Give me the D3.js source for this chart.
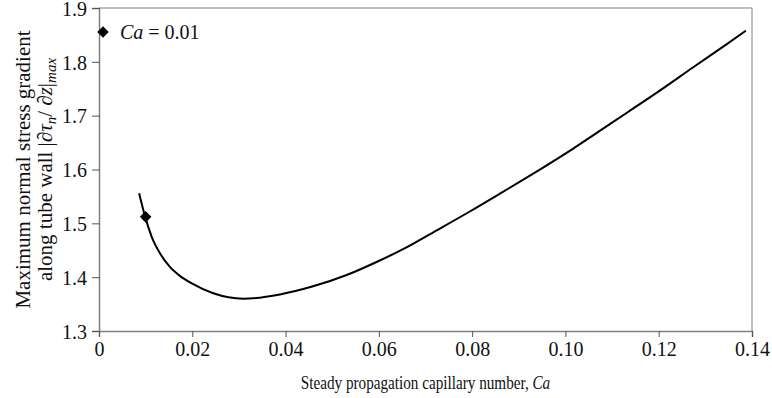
<!DOCTYPE html>
<html>
<head>
<meta charset="utf-8">
<script src="https://cdn.jsdelivr.net/npm/d3@7"></script>
<style>
  body { margin: 0; background: #fff; }
</style>
</head>
<body>
<div id="chart"></div>
<script>
// Curve
const caValues = [0.0086, 0.0099, 0.0113, 0.0131, 0.0152, 0.0174, 0.0200, 0.0245, 0.0309,
  0.0388, 0.0459, 0.0531, 0.0602, 0.0652, 0.0724, 0.0795, 0.0867, 0.0938, 0.1010,
  0.1060, 0.1131, 0.1203, 0.1274, 0.1346, 0.1387];
const gradValues = [1.556, 1.512, 1.475, 1.444, 1.419, 1.402, 1.388, 1.370, 1.360,
  1.368, 1.383, 1.404, 1.431, 1.452, 1.487, 1.522, 1.559, 1.596, 1.635,
  1.664, 1.705, 1.747, 1.790, 1.833, 1.858];
const markerCa = [0.01];
const markerGrad = [1.512];
const xTicks = [0, 0.02, 0.04, 0.06, 0.08, 0.10, 0.12, 0.14];
const xTickLabels = ["0", "0.02", "0.04", "0.06", "0.08", "0.10", "0.12", "0.14"];
const yTicks = [1.3, 1.4, 1.5, 1.6, 1.7, 1.8, 1.9];

const W = 772, H = 398;
const margin = { top: 8, right: 20, bottom: 67, left: 99 };
const width = W - margin.left - margin.right;
const height = H - margin.top - margin.bottom;
const serif = "'Liberation Serif', 'Times New Roman', Times, serif";

const svg = d3.select("#chart").append("svg")
    .attr("width", W)
    .attr("height", H);

const g = svg.append("g")
    .attr("transform", `translate(${margin.left},${margin.top})`);

const x = d3.scaleLinear().domain([0, 0.14]).range([0, width]);
const y = d3.scaleLinear().domain([1.3, 1.9]).range([height, 0]);

// plot frame (top + right)
g.append("path")
    .attr("d", `M0,0H${width}V${height}`)
    .attr("fill", "none")
    .attr("stroke", "#808080")
    .attr("stroke-width", 1);

// x axis
const xAxis = g.append("g")
    .attr("transform", `translate(0,${height})`)
    .call(d3.axisBottom(x).tickValues(xTicks).tickSize(6).tickPadding(5)
      .tickFormat((d, i) => xTickLabels[i]));

// y axis
const yAxis = g.append("g")
    .call(d3.axisLeft(y).tickValues(yTicks).tickSize(7).tickPadding(5)
      .tickFormat(d3.format(".1f")));

[xAxis, yAxis].forEach(ax => {
  ax.attr("font-family", null).attr("font-size", null);
  ax.select(".domain").attr("stroke", "#808080").attr("stroke-width", 1.5);
  ax.selectAll(".tick line").attr("stroke", "#555");
  ax.selectAll(".tick text").attr("fill", "#111").style("font-size", "20px");
});
// y ticks cross the axis a little
yAxis.selectAll(".tick line").attr("x2", -7).attr("x1", 1);
yAxis.selectAll(".tick text").attr("dy", "0.36em");

// curve
const pts = caValues.map((c, i) => [c, gradValues[i]]);
const line = d3.line()
    .x(d => x(d[0]))
    .y(d => y(d[1]))
    .curve(d3.curveMonotoneX);

g.append("path")
    .datum(pts)
    .attr("fill", "none")
    .attr("stroke", "#000")
    .attr("stroke-width", 2)
    .attr("d", line);

// marker
const diamond = d3.symbol().type(d3.symbolDiamond2).size(85);
g.selectAll(".marker")
    .data(markerCa)
    .enter()
    .append("path")
    .attr("class", "marker")
    .attr("d", diamond)
    .attr("transform", (d, i) => `translate(${x(d)},${y(markerGrad[i])})`)
    .attr("fill", "#000");

// legend
const legend = g.append("g").attr("transform", "translate(4,24)");
legend.append("path")
    .attr("d", diamond)
    .attr("fill", "#000");
const lt = legend.append("text")
    .attr("x", 17)
    .attr("y", 7)
    .style("font-size", "20px")
    .attr("fill", "#111");
lt.append("tspan").style("font-style", "italic").text("Ca");
lt.append("tspan").text(" = 0.01");

// x label (slightly condensed like the original)
const xl = svg.append("text")
    .attr("transform", `translate(${margin.left + width / 2},389) scale(0.8,1)`)
    .attr("text-anchor", "middle")
    .style("font-size", "19px")
    .attr("fill", "#111");
xl.append("tspan").text("Steady propagation capillary number, ");
xl.append("tspan").style("font-style", "italic").text("Ca");

// y label (two lines)
const yl = svg.append("text")
    .attr("transform", `translate(0,${margin.top + height / 2}) rotate(-90)`)
    .attr("text-anchor", "middle")
    .style("font-size", "21px")
    .attr("fill", "#111");
yl.append("tspan").attr("x", 0).attr("y", 30).text("Maximum normal stress gradient");
const l2 = yl.append("tspan").attr("x", 0).attr("y", 52);
l2.append("tspan").text("along tube wall |∂");
l2.append("tspan").style("font-style", "italic").text("τ");
l2.append("tspan").style("font-style", "italic").style("font-size", "15px").attr("dy", 4).text("n");
l2.append("tspan").attr("dy", -4).text("/ ∂");
l2.append("tspan").style("font-style", "italic").text("z");
l2.append("tspan").text("|");
l2.append("tspan").style("font-style", "italic").style("font-size", "15px").attr("dy", 4).text("max");

// force the serif family on every text
svg.selectAll("text").style("font-family", serif);
</script>
</body>
</html>
